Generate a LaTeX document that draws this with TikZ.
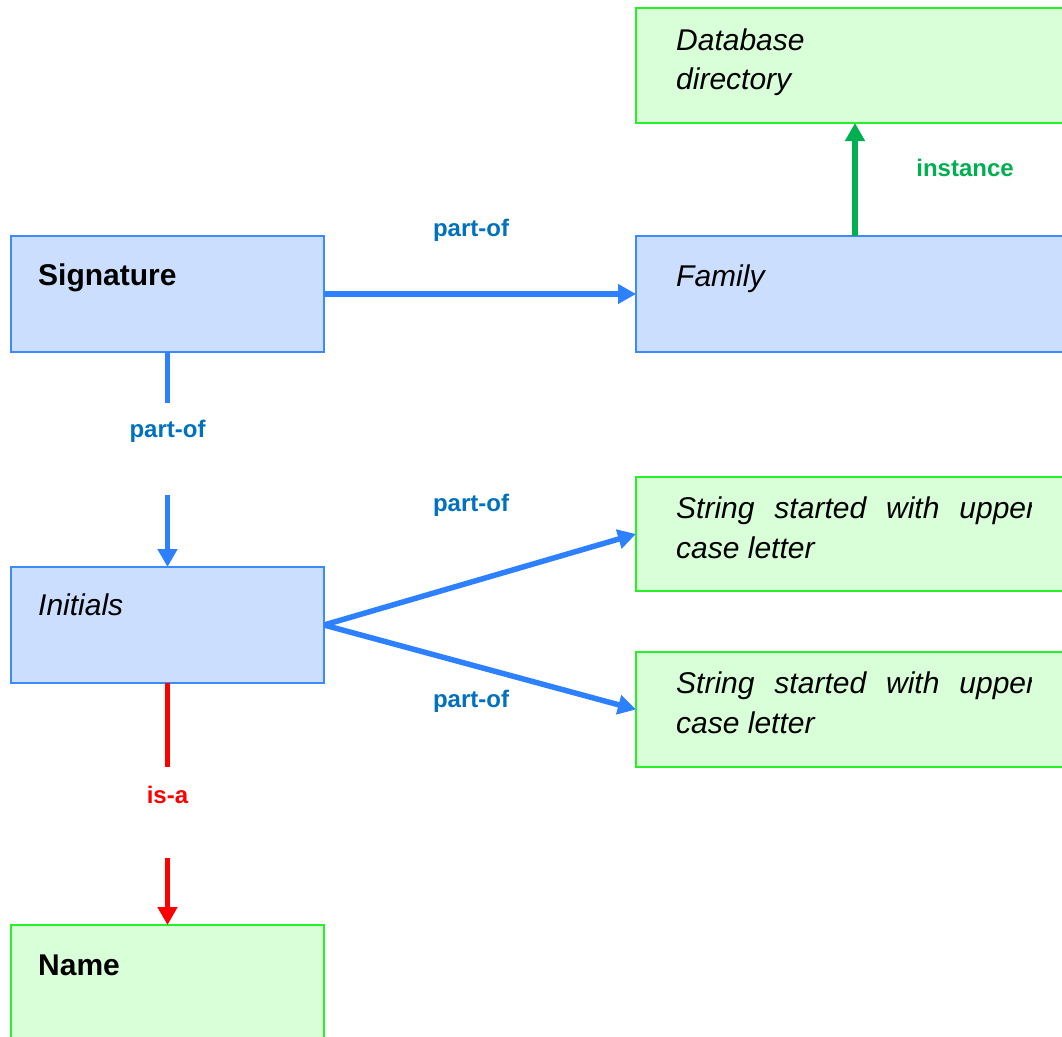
\documentclass[tikz,border=0pt]{standalone}
\usepackage{fontspec}
\setmainfont{Liberation Sans}
\usetikzlibrary{arrows.meta}
\definecolor{bluefill}{RGB}{204,222,254}
\definecolor{blueline}{RGB}{60,138,255}
\definecolor{greenfill}{RGB}{216,255,216}
\definecolor{greenline}{RGB}{40,240,40}
\definecolor{arrowblue}{RGB}{45,128,255}
\definecolor{labelblue}{RGB}{0,112,192}
\definecolor{arrowgreen}{RGB}{0,176,80}
\definecolor{isared}{RGB}{255,0,0}
\begin{document}
\begin{tikzpicture}[x=1pt,y=-1pt,
  bluebox/.style={draw=blueline,fill=bluefill,line width=2pt,inner sep=0pt,outer sep=0pt,anchor=north west},
  greenbox/.style={draw=greenline,fill=greenfill,line width=2pt,inner sep=0pt,outer sep=0pt,anchor=north west},
  itxt/.style={anchor=base west,inner sep=0pt,font=\fontsize{30}{36}\selectfont\itshape},
  btxt/.style={anchor=base west,inner sep=0pt,font=\fontsize{30}{36}\selectfont\bfseries},
  lbl/.style={inner sep=0pt,font=\fontsize{24}{28}\selectfont\bfseries},
  conn/.style={line width=5.5pt},
  arr/.style={line width=5.5pt,-{Triangle[length=18pt,width=19pt]}}]
\clip (0,0) rectangle (1062,1036);
\fill[white] (0,0) rectangle (1062,1036);

% boxes
\node[greenbox,minimum width=438pt,minimum height=115pt] (db) at (636,8) {};
\node[bluebox,minimum width=438pt,minimum height=116pt] (fam) at (636,236) {};
\node[bluebox,minimum width=313pt,minimum height=116pt] (sig) at (11,236) {};
\node[bluebox,minimum width=313pt,minimum height=116pt] (ini) at (11,567) {};
\node[greenbox,minimum width=438pt,minimum height=114pt] (s1) at (636,477) {};
\node[greenbox,minimum width=438pt,minimum height=115pt] (s2) at (636,652) {};
\node[greenbox,minimum width=313pt,minimum height=130pt] (nm) at (11,925) {};

% box texts
\node[itxt] (dbA) at (676,50) {Database};
\node[itxt] (dbB) at (676,89) {directory};
\node[itxt] (famT) at (676,286) {Family};
\node[btxt] (sigT) at (38,285) {Signature};
\node[itxt] (iniT) at (38,615) {Initials};
\node[btxt] (nmT) at (38,975) {Name};
\begin{scope}
\clip (636,0) rectangle (1031,1036);
\node[itxt] (s1A) at (676,518) {\makebox[360pt][s]{String started with upper}};
\node[itxt] (s2A) at (676,693) {\makebox[360pt][s]{String started with upper}};
\end{scope}
\node[itxt] (s1B) at (676,558) {case letter};
\node[itxt] (s2B) at (676,733) {case letter};

% connectors
\coordinate (f1) at (855,236);
\coordinate (d1) at (855,123);
\coordinate (sa) at (167.5,403);
\coordinate (sb) at (167.5,495);
\coordinate (ia) at (167.5,767);
\coordinate (ib) at (167.5,858);

\draw[arr,arrowblue] (sig.east) -- (fam.west);
\draw[arr,arrowgreen] (f1) -- (d1);
\draw[conn,arrowblue] (sig.south) -- (sa);
\draw[arr,arrowblue] (sb) -- (ini.north);
\draw[arr,arrowblue] (ini.east) -- (s1.west);
\draw[arr,arrowblue] (ini.east) -- (s2.west);
\draw[conn,isared] (ini.south) -- (ia);
\draw[arr,isared] (ib) -- (nm.north);

% labels
\node[lbl,text=labelblue] (l1) at (471,230) {part-of};
\node[lbl,text=labelblue] (l2) at (167.5,431) {part-of};
\node[lbl,text=labelblue] (l3) at (471,505) {part-of};
\node[lbl,text=labelblue] (l4) at (471,701) {part-of};
\node[lbl,text=arrowgreen] (l5) at (965,168) {instance};
\node[lbl,text=isared] (l6) at (167.5,795) {is-a};
\end{tikzpicture}
\end{document}
